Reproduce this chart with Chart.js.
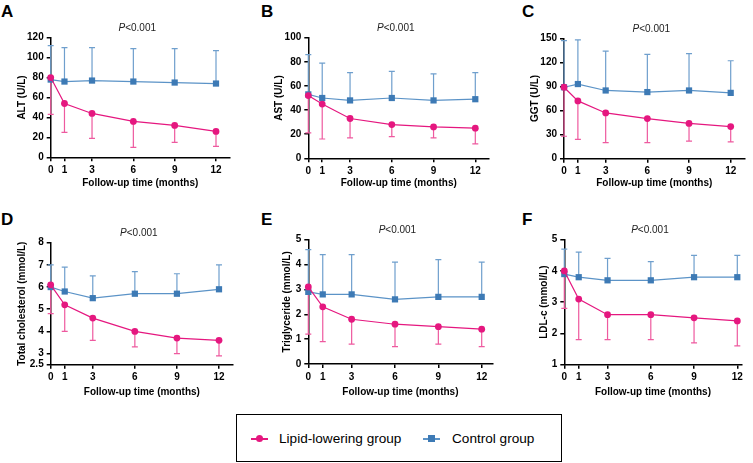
<!DOCTYPE html>
<html>
<head>
<meta charset="utf-8">
<script src="https://cdn.jsdelivr.net/npm/chart.js@4"></script>
<style>
  body { margin: 0; background: #fff; }
  #fig { position: relative; width: 753px; height: 463px; background: #fff; font-family: 'Liberation Sans', Arial, sans-serif; }
  #fig canvas { position: absolute; }
  .letter { position: absolute; font-size: 17px; line-height: 17px; font-weight: bold; color: #000; }
  #legend { position: absolute; left: 236px; top: 414px; width: 326px; height: 48px; border: 1px solid #000; box-sizing: border-box; }
  #legend .ln { position: absolute; height: 1.5px; width: 17px; top: 23px; }
  #legend .txt { position: absolute; top: 15px; font-size: 13.6px; line-height: 18px; color: #000; white-space: nowrap; }
</style>
</head>
<body>
<div id="fig">
  <div id="legend">
    <div class="ln" style="left:14px;background:#e5177f"></div>
    <div style="position:absolute;left:19px;top:20px;width:7px;height:7px;border-radius:50%;background:#e5177f"></div>
    <div class="txt" style="left:42px">Lipid-lowering group</div>
    <div class="ln" style="left:186px;background:#5b93c7"></div>
    <div style="position:absolute;left:191px;top:20px;width:7px;height:7px;background:#3d7ab5"></div>
    <div class="txt" style="left:215px">Control group</div>
  </div>
</div>
<script>
// follow-up months and tick values
const months = [0, 1, 3, 6, 9, 12];
const monthTicks = [0, 1, 3, 6, 9, 12];
const seriesNames = ['Lipid-lowering group', 'Control group'];
const xTitle = 'Follow-up time (months)';
const pItalic = 'P';
const pRest = '<0.001';

// A - ALT (U/L)
const altLipid = [80, 54, 44, 36, 32, 26];
const altLipidLow = [43, 25, 19, 10, 15, 11];
const altCtrl = [78, 76, 77, 76, 75, 74];
const altCtrlHigh = [112, 110, 110, 109, 109, 107];
const altTicks = [0, 20, 40, 60, 80, 100, 120];

// B - AST (U/L)
const astLipid = [52, 45, 33, 28, 26, 25];
const astLipidLow = [21, 16, 17, 18, 17, 12];
const astCtrl = [53, 50, 48, 50, 48, 49];
const astCtrlHigh = [86, 79, 71, 72, 70, 71];
const astTicks = [0, 20, 40, 60, 80, 100];

// C - GGT (U/L)
const ggtLipid = [89, 72, 57, 50, 44, 40];
const ggtLipidLow = [28, 24, 20, 20, 22, 21];
const ggtCtrl = [89, 93, 85, 83, 85, 82];
const ggtCtrlHigh = [147, 148, 134, 130, 131, 122];
const ggtTicks = [0, 30, 60, 90, 120, 150];

// D - Total cholesterol (mmol/L)
const tcLipid = [6.1, 5.2, 4.6, 4.0, 3.7, 3.6];
const tcLipidLow = [4.8, 4.0, 3.6, 3.3, 3.0, 2.9];
const tcCtrl = [6.0, 5.8, 5.5, 5.7, 5.7, 5.9];
const tcCtrlHigh = [7.0, 6.9, 6.5, 6.7, 6.6, 7.0];
const tcTicks = [2.5, 3, 4, 5, 6, 7, 8];

// E - Triglyceride (mmol/L)
const tgLipid = [3.1, 2.3, 1.8, 1.6, 1.5, 1.4];
const tgLipidLow = [1.2, 0.9, 0.8, 0.7, 0.8, 0.7];
const tgCtrl = [2.9, 2.8, 2.8, 2.6, 2.7, 2.7];
const tgCtrlHigh = [4.6, 4.4, 4.4, 4.1, 4.2, 4.1];
const tgTicks = [0, 1, 2, 3, 4, 5];

// F - LDL-c (mmol/L)
const ldlLipid = [4.0, 3.1, 2.6, 2.6, 2.5, 2.4];
const ldlLipidLow = [2.8, 1.8, 1.8, 1.8, 1.7, 1.6];
const ldlCtrl = [3.9, 3.8, 3.7, 3.7, 3.8, 3.8];
const ldlCtrlHigh = [4.7, 4.6, 4.4, 4.3, 4.5, 4.5];
const ldlTicks = [1, 2, 3, 4, 5];

const FONT = "'Liberation Sans', Arial, sans-serif";
const PINK = '#e5177f', PINK_ERR = '#ee5a9f';
const BLUE = '#3d7ab5', BLUE_LINE = '#5b93c7', BLUE_ERR = '#6f9fcd';

// panel placement (pixels in the 753x463 figure)
const panels = [
  { letter: 'A', yTitle: 'ALT (U/L)', lipid: altLipid, lipidLow: altLipidLow, ctrl: altCtrl, ctrlHigh: altCtrlHigh, yTicks: altTicks,
    box: [0, 18, 250, 178], axisX: 50.7, plotTop: 37.7, plotBottom: 157.3, x12: 216, xMax: 13, yTitleX: 22, xTitleY: 183.3, letterPos: [1, 3] },
  { letter: 'B', yTitle: 'AST (U/L)', lipid: astLipid, lipidLow: astLipidLow, ctrl: astCtrl, ctrlHigh: astCtrlHigh, yTicks: astTicks,
    box: [250, 18, 250, 178], axisX: 308.3, plotTop: 37.7, plotBottom: 158.3, x12: 475.3, xMax: 13, yTitleX: 279.7, xTitleY: 183.5, letterPos: [261, 3] },
  { letter: 'C', yTitle: 'GGT (U/L)', lipid: ggtLipid, lipidLow: ggtLipidLow, ctrl: ggtCtrl, ctrlHigh: ggtCtrlHigh, yTicks: ggtTicks,
    box: [500, 18, 253, 178], axisX: 564, plotTop: 38.3, plotBottom: 158.7, x12: 730.7, xMax: 13, yTitleX: 535.3, xTitleY: 183.5, letterPos: [522, 3] },
  { letter: 'D', yTitle: 'Total cholesterol (mmol/L)', lipid: tcLipid, lipidLow: tcLipidLow, ctrl: tcCtrl, ctrlHigh: tcCtrlHigh, yTicks: tcTicks,
    box: [0, 220, 250, 182], axisX: 50.7, plotTop: 242.7, plotBottom: 364.7, x12: 219, xMax: 13, yTitleX: 22.5, xTitleY: 392.7, letterPos: [1, 211] },
  { letter: 'E', yTitle: 'Triglyceride (mmol/L)', lipid: tgLipid, lipidLow: tgLipidLow, ctrl: tgCtrl, ctrlHigh: tgCtrlHigh, yTicks: tgTicks,
    box: [250, 220, 250, 182], axisX: 308.3, plotTop: 239.7, plotBottom: 364, x12: 481.7, xMax: 12.75, yTitleX: 287.5, xTitleY: 392.7, letterPos: [261, 211] },
  { letter: 'F', yTitle: 'LDL-c (mmol/L)', lipid: ldlLipid, lipidLow: ldlLipidLow, ctrl: ldlCtrl, ctrlHigh: ldlCtrlHigh, yTicks: ldlTicks,
    box: [500, 220, 253, 182], axisX: 564.3, plotTop: 239.7, plotBottom: 364.7, x12: 737.3, xMax: 12.3, yTitleX: 544, xTitleY: 392.7, letterPos: [522, 211] }
];

// error bars: one-sided, drawn from mean to the end value
const errorBarPlugin = {
  id: 'errorBars',
  beforeDatasetsDraw(chart) {
    const { ctx, scales: { x, y } } = chart;
    ctx.save();
    chart.data.datasets.forEach(ds => {
      ctx.strokeStyle = ds.errorColor;
      ctx.lineWidth = 1.2;
      ds.data.forEach((pt, i) => {
        const px = x.getPixelForValue(pt.x);
        const py = y.getPixelForValue(pt.y);
        const pe = y.getPixelForValue(ds.errorEnds[i]);
        ctx.beginPath();
        ctx.moveTo(px, py);
        ctx.lineTo(px, pe);
        ctx.moveTo(px - 3, pe);
        ctx.lineTo(px + 3, pe);
        ctx.stroke();
      });
    });
    ctx.restore();
  }
};

// "P<0.001" above each plot, with italic P
const pValuePlugin = {
  id: 'pValue',
  afterDraw(chart) {
    const { ctx, chartArea } = chart;
    const cx = (chartArea.left + chartArea.right) / 2 - 3;
    const cy = chartArea.top - 9.5;
    ctx.save();
    ctx.fillStyle = '#222';
    ctx.textBaseline = 'middle';
    ctx.font = 'italic 10px ' + FONT;
    const w1 = ctx.measureText(pItalic).width;
    ctx.font = '10px ' + FONT;
    const w2 = ctx.measureText(pRest).width;
    const x0 = cx - (w1 + w2) / 2;
    ctx.font = 'italic 10px ' + FONT;
    ctx.fillText(pItalic, x0, cy);
    ctx.font = '10px ' + FONT;
    ctx.fillText(pRest, x0 + w1, cy);
    ctx.restore();
  }
};

const fig = document.getElementById('fig');

panels.forEach(p => {
  const [bl, bt, bw, bh] = p.box;

  const letter = document.createElement('div');
  letter.className = 'letter';
  letter.textContent = p.letter;
  letter.style.left = p.letterPos[0] + 'px';
  letter.style.top = p.letterPos[1] + 'px';
  fig.appendChild(letter);

  const canvas = document.createElement('canvas');
  canvas.width = bw;
  canvas.height = bh;
  canvas.style.left = bl + 'px';
  canvas.style.top = bt + 'px';
  canvas.style.width = bw + 'px';
  canvas.style.height = bh + 'px';
  fig.appendChild(canvas);

  const plotRight = p.axisX + p.xMax * (p.x12 - p.axisX) / 12;
  const yAxisWidth = p.axisX - bl;
  const xAxisHeight = bt + bh - p.plotBottom;

  new Chart(canvas, {
    type: 'line',
    data: {
      datasets: [
        {
          label: seriesNames[0],
          data: months.map((m, i) => ({ x: m, y: p.lipid[i] })),
          errorEnds: p.lipidLow,
          errorColor: PINK_ERR,
          borderColor: PINK,
          backgroundColor: PINK,
          borderWidth: 1.2,
          pointStyle: 'circle',
          pointRadius: 3.4,
          pointBorderWidth: 0,
          tension: 0,
          clip: false
        },
        {
          label: seriesNames[1],
          data: months.map((m, i) => ({ x: m, y: p.ctrl[i] })),
          errorEnds: p.ctrlHigh,
          errorColor: BLUE_ERR,
          borderColor: BLUE_LINE,
          backgroundColor: BLUE,
          borderWidth: 1.2,
          pointStyle: 'rect',
          pointRadius: 4.4,
          pointBorderWidth: 0,
          tension: 0,
          clip: false
        }
      ]
    },
    options: {
      responsive: false,
      animation: false,
      devicePixelRatio: 1,
      layout: { padding: { left: 0, top: p.plotTop - bt, right: bl + bw - plotRight, bottom: 0 } },
      plugins: { legend: { display: false }, tooltip: { enabled: false } },
      scales: {
        x: {
          type: 'linear',
          min: 0,
          max: p.xMax,
          afterBuildTicks: s => { s.ticks = monthTicks.map(v => ({ value: v })); },
          afterFit: s => { s.height = xAxisHeight; },
          grid: { drawOnChartArea: false, color: '#000', lineWidth: 1.5, tickLength: 4 },
          border: { color: '#000', width: 1.5 },
          ticks: { autoSkip: false, maxRotation: 0, padding: 3, color: '#000',
                   font: { family: FONT, size: 10, weight: 'bold' }, callback: v => String(v) },
          title: { display: true, text: xTitle, color: '#000',
                   font: { family: FONT, size: 10, weight: 'bold' },
                   padding: { top: 0, bottom: bt + bh - p.xTitleY - 6 } }
        },
        y: {
          type: 'linear',
          min: p.yTicks[0],
          max: p.yTicks[p.yTicks.length - 1],
          afterBuildTicks: s => { s.ticks = p.yTicks.map(v => ({ value: v })); },
          afterFit: s => { s.width = yAxisWidth; },
          grid: { drawOnChartArea: false, color: '#000', lineWidth: 1.5, tickLength: 4 },
          border: { color: '#000', width: 1.5 },
          ticks: { autoSkip: false, padding: 3, color: '#000',
                   font: { family: FONT, size: 10, weight: 'bold' }, callback: v => String(v) },
          title: { display: true, text: p.yTitle, color: '#000',
                   font: { family: FONT, size: 10, weight: 'bold' },
                   padding: { top: p.yTitleX - bl - 6, bottom: 0 } }
        }
      }
    },
    plugins: [errorBarPlugin, pValuePlugin]
  });
});
</script>
</body>
</html>
